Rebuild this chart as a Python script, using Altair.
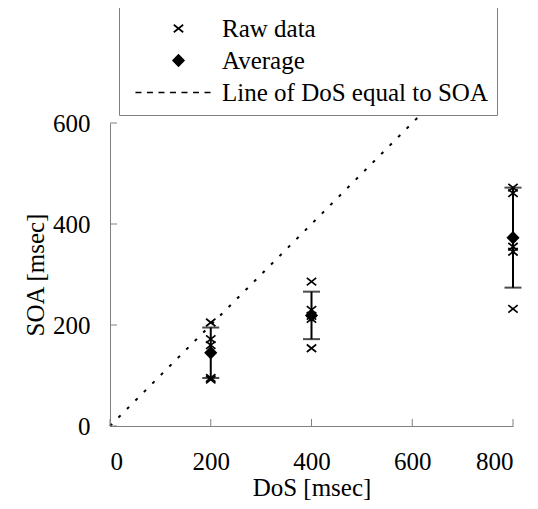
import math
import altair as alt
import pandas as pd

# ---- data ----
raw_dos = [200, 200, 200, 200, 200, 400, 400, 400, 400, 400, 800, 800, 800, 800, 800]
raw_soa = [205, 172, 160, 95, 92, 286, 230, 218, 212, 154, 472, 461, 355, 345, 232]
avg_dos = [200, 400, 800]
avg_soa = [145, 219, 373]
sd_soa = [50, 47, 99]
line_dos = [0, 612]
line_soa = [0, 612]
x_ticks = [0, 200, 400, 600, 800]
y_ticks = [0, 200, 400, 600]
series_names = ["Raw data", "Average", "Line of DoS equal to SOA"]

FONT = "'Liberation Serif', 'Times New Roman', Times, 'DejaVu Serif', serif"
FS = 25
AXIS_GRAY = "#808080"


# symbol paths (unit = half of sqrt(size)); strokes drawn as thin filled polygons
def seg(x1, y1, x2, y2, hw):
    dx, dy = x2 - x1, y2 - y1
    n = math.hypot(dx, dy)
    px, py = -dy / n * hw, dx / n * hw
    pts = [(x1 + px, y1 + py), (x2 + px, y2 + py), (x2 - px, y2 - py), (x1 - px, y1 - py)]
    return "M" + "L".join(f"{a:.3f},{b:.3f}" for a, b in pts) + "Z"


SYM_SIZE = 352
HW = 0.09
cross_path = seg(-0.5, -0.4, 0.5, 0.4, HW) + seg(-0.5, 0.4, 0.5, -0.4, HW)
diamond_path = "M0,-0.72L0.7,0L0,0.72L-0.7,0Z"
dash_segs = []
start, dash, gap = -4.59, 0.64, 0.587
for i in range(7):
    a = start + i * (dash + gap)
    dash_segs.append(seg(a, 0, a + dash, 0, HW))
line_path = "".join(dash_segs)

raw_df = pd.DataFrame({"dos": raw_dos, "soa": raw_soa, "series": series_names[0]})
avg_df = pd.DataFrame({"dos": avg_dos, "soa": avg_soa, "sd": sd_soa, "series": series_names[1]})
line_df = pd.DataFrame({"dos": line_dos, "soa": line_soa})
xt_df = pd.DataFrame({"v": x_ticks})
yt_df = pd.DataFrame({"v": y_ticks})

xscale = alt.Scale(domain=[0, 800], nice=False)
yscale = alt.Scale(domain=[0, 600], nice=False)

x_axis = alt.Axis(values=x_ticks, title="DoS [msec]", grid=False, ticks=False, tickSize=0,
                  domainColor=AXIS_GRAY, labelFont=FONT, labelFontSize=FS, labelColor="black",
                  labelPadding=23, titleFont=FONT, titleFontSize=FS, titleFontWeight="normal",
                  titleColor="black", titlePadding=1)
y_axis = alt.Axis(values=y_ticks, title="SOA [msec]", grid=False, ticks=False, tickSize=0,
                  domainColor=AXIS_GRAY, labelFont=FONT, labelFontSize=FS, labelColor="black",
                  labelPadding=20, titleFont=FONT, titleFontSize=FS, titleFontWeight="normal",
                  titleColor="black", titlePadding=4)

shape_enc = alt.Shape(
    "series:N",
    scale=alt.Scale(domain=series_names, range=[cross_path, diamond_path, line_path]),
    legend=alt.Legend(
        title=None, orient="none", legendX=9, legendY=-116,
        symbolSize=SYM_SIZE, symbolStrokeWidth=0, symbolFillColor="black",
        symbolOffset=38, labelOffset=31,
        labelFont=FONT, labelFontSize=FS, labelColor="black", labelLimit=500,
        rowPadding=6, padding=9, strokeColor="#7f7f7f", fillColor="white",
        cornerRadius=0,
    ),
)

line = alt.Chart(line_df).mark_line(
    color="black", strokeWidth=2, strokeDash=[3, 9], clip=False
).encode(
    x=alt.X("dos:Q", scale=xscale, axis=x_axis),
    y=alt.Y("soa:Q", scale=yscale, axis=y_axis),
)

err = alt.Chart(avg_df).transform_calculate(
    lo="datum.soa - datum.sd", hi="datum.soa + datum.sd"
)
err_rule = err.mark_rule(color="black", strokeWidth=2).encode(
    x="dos:Q", y="lo:Q", y2="hi:Q"
)
cap_lo = err.mark_tick(color="black", orient="horizontal", size=17, thickness=2).encode(
    x="dos:Q", y="lo:Q"
)
cap_hi = err.mark_tick(color="black", orient="horizontal", size=17, thickness=2).encode(
    x="dos:Q", y="hi:Q"
)

raw_pts = alt.Chart(raw_df).mark_point(
    filled=True, fill="black", strokeWidth=0, size=SYM_SIZE, opacity=1, clip=False
).encode(x="dos:Q", y="soa:Q", shape=shape_enc)

avg_pts = alt.Chart(avg_df).mark_point(
    filled=True, fill="black", strokeWidth=0, size=SYM_SIZE, opacity=1, clip=False
).encode(x="dos:Q", y="soa:Q", shape=shape_enc)

# inward axis ticks
xticks = alt.Chart(xt_df).mark_rule(color=AXIS_GRAY, strokeWidth=1, y2Offset=-7).encode(
    x="v:Q", y=alt.datum(0), y2=alt.datum(0)
)
yticks = alt.Chart(yt_df).mark_rule(color=AXIS_GRAY, strokeWidth=1, x2Offset=7).encode(
    y="v:Q", x=alt.datum(0), x2=alt.datum(0)
)

chart = alt.layer(
    line, xticks, yticks, err_rule, cap_lo, cap_hi, raw_pts, avg_pts
).properties(
    width=403, height=303, autosize="none", background="white",
    padding={"left": 102, "top": 115, "right": 17, "bottom": 75},
).configure_view(stroke="transparent", strokeWidth=0)

chart.save("out.html", embed_options={"renderer": "svg", "actions": False})
